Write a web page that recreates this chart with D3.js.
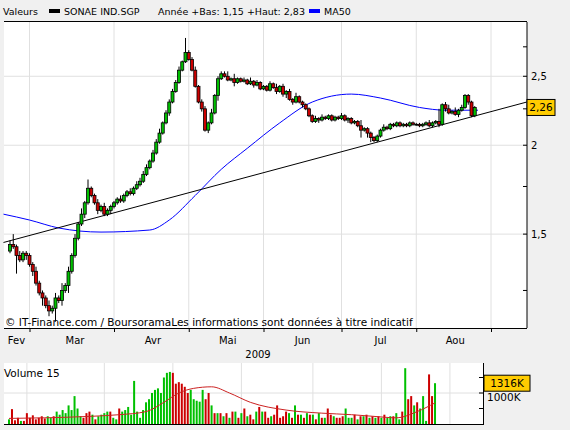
<!DOCTYPE html>
<html><head><meta charset="utf-8">
<script src="https://cdnjs.cloudflare.com/ajax/libs/d3/7.8.5/d3.min.js"></script>
<style>body{margin:0;background:#f0f0f0}svg{font-family:"DejaVu Sans",sans-serif}</style>
</head><body><svg id="c" width="570" height="430"></svg>
<script>
// daily closes, open = previous close
const closes = [1.45,1.44,1.40,1.38,1.41,1.40,1.36,1.33,1.28,1.24,1.22,1.19,1.17,1.18,1.22,1.21,1.25,1.27,1.33,1.40,
  1.48,1.55,1.60,1.66,1.74,1.70,1.66,1.62,1.64,1.60,1.62,1.64,1.66,1.68,1.67,1.70,1.72,1.71,1.74,1.76,
  1.78,1.82,1.86,1.90,1.95,2.02,2.08,2.15,2.22,2.30,2.38,2.45,2.55,2.62,2.70,2.64,2.55,2.42,2.30,2.25,
  2.10,2.15,2.22,2.35,2.48,2.52,2.50,2.47,2.48,2.45,2.48,2.46,2.47,2.44,2.46,2.43,2.45,2.40,2.42,2.39,
  2.44,2.41,2.38,2.42,2.36,2.38,2.32,2.30,2.34,2.30,2.28,2.25,2.20,2.16,2.18,2.17,2.19,2.18,2.20,2.17,
  2.19,2.18,2.20,2.17,2.18,2.15,2.16,2.13,2.10,2.11,2.08,2.05,2.03,2.06,2.10,2.12,2.11,2.14,2.13,2.15,
  2.13,2.14,2.13,2.15,2.14,2.14,2.13,2.14,2.15,2.13,2.15,2.16,2.14,2.28,2.25,2.22,2.23,2.21,2.24,2.26,
  2.35,2.30,2.20,2.26]
const firstOpen = 1.42
// wick lengths in cents (base 36 digits)
const upWick = "2512111121"+"1121213121"+"2131511212"+"1111211212"+"2221223122"+"2231d22312"+"2131222414"+
  "1121312111"+"2131212131"+"1111212111"+"1121111141"+"1111121111"+"1111111112"+"1191231312"+"1111"
const downWick = "1181121211"+"3121512131"+"1112111211"+"1211111111"+"1111111112"+"1111111112"+"1211411113"+
  "1111121111"+"1121231211"+"2111121111"+"1111211151"+"3311111111"+"1111111111"+"1121211121"+"1211"
const volumes = [150,480,120,200,100,100,350,200,280,150,200,250,180,250,200,250,400,300,450,350,
  600,450,900,500,250,200,350,400,300,150,250,300,350,400,400,200,150,500,400,450,
  550,300,1390,400,200,450,700,800,1000,1100,1150,1000,1500,1650,1680,1650,1300,1350,1300,1200,
  1000,1100,800,750,720,1100,800,1000,600,350,350,350,250,350,200,400,400,200,350,500,
  250,300,150,400,550,400,400,200,250,300,600,200,250,400,350,200,600,300,300,200,
  350,300,300,150,350,200,200,500,300,250,200,200,250,500,200,200,300,150,250,250,
  300,200,250,200,250,200,300,200,250,250,350,150,400,1800,800,900,600,700,500,900,
  100,1600,900,1316]
const maIdx = [-2,6,15,28,43,49,57,65,73,83,93,105,114,126,134,144]
const ma50 = [1.60,1.57,1.53,1.51,1.52,1.57,1.70,1.85,1.98,2.15,2.30,2.36,2.33,2.26,2.24,2.24]
const vmaIdx = [0,12,28,37,46,52,57,62,68,74,81,93,105,115,122,130,137,143]
const vma = [180,200,250,300,400,700,1000,1150,1200,1000,700,450,350,300,250,200,400,680]
const trend = {i: [-2, 159], p: [1.46, 2.30]}
const months = ["Fev","Mar","Avr","Mai","Jun","Jul","Aou"]
const monthIdx = [2,20,44,67,90,114,137]
const gridIdx = [6,32,55,78,102,125,148]
const priceTicks = [1.5,2,2.5]
const priceMinor = [1.25,1.75,2.25,2.75]
const volTicks = [500,1000,1500]

const svg = d3.select("#c")
const red = "#cc0000", green = "#00c000"
const x = d3.scaleLinear().domain([0,144]).range([10,478])
const xv = d3.scaleLinear().domain([0,144]).range([9,438])
const y = d3.scaleLog().domain([1.107,2.98]).range([328,22])
const yv = d3.scaleLinear().domain([0,1000]).range([424,393])

// panels
svg.append("rect").attr("x",4).attr("y",22).attr("width",523).attr("height",306).attr("fill","#fff")
svg.append("rect").attr("x",4).attr("y",363).attr("width",479).attr("height",62).attr("fill","#fff")

// grid main
const grid = svg.append("g").attr("stroke","#e0e0e0")
gridIdx.forEach(i => grid.append("line").attr("x1",x(i)).attr("x2",x(i)).attr("y1",22).attr("y2",328))
priceTicks.forEach(p => grid.append("line").attr("x1",4).attr("x2",527).attr("y1",y(p)).attr("y2",y(p)))
gridIdx.forEach(i => grid.append("line").attr("x1",xv(i)).attr("x2",xv(i)).attr("y1",363).attr("y2",424))
grid.append("line").attr("x1",4).attr("x2",483).attr("y1",yv(1000)).attr("y2",yv(1000))

// legend
const lg = svg.append("g").attr("font-size",9.5)
lg.append("text").attr("x",3).attr("y",15).text("Valeurs")
lg.append("rect").attr("x",49).attr("y",9).attr("width",11).attr("height",4).attr("fill","#000")
lg.append("text").attr("x",64).attr("y",15).text("SONAE IND.SGP")
lg.append("text").attr("x",158).attr("y",15).text("Année +Bas: 1,15 +Haut: 2,83")
lg.append("rect").attr("x",309).attr("y",9).attr("width",11).attr("height",4).attr("fill","#0000ff")
lg.append("text").attr("x",324).attr("y",15).text("MA50")
svg.append("line").attr("x1",4).attr("x2",527).attr("y1",21.5).attr("y2",21.5).attr("stroke","#000")

// MA50 and trend
svg.append("path").attr("d", d3.line().curve(d3.curveMonotoneX).x((d,k)=>x(maIdx[k])).y(d=>y(d))(ma50))
  .attr("fill","none").attr("stroke","#0000ff").attr("stroke-width",1)
svg.append("line").attr("x1",x(trend.i[0])).attr("x2",x(trend.i[1]))
  .attr("y1",y(trend.p[0])).attr("y2",y(trend.p[1])).attr("stroke","#000")

// candles
const opens = closes.map((c,i)=> i===0 ? firstOpen : closes[i-1])
const cg = svg.append("g")
closes.forEach((c,i) => {
  const o = opens[i], hi = Math.max(o,c)+parseInt(upWick[i],36)/100, lo = Math.min(o,c)-parseInt(downWick[i],36)/100
  cg.append("line").attr("x1",x(i)).attr("x2",x(i)).attr("y1",y(hi)).attr("y2",y(lo)).attr("stroke","#000")
  const top = y(Math.max(o,c)), bot = y(Math.min(o,c))
  cg.append("rect").attr("x",x(i)-1.5).attr("width",3).attr("y",top).attr("height",Math.max(bot-top,0.8))
    .attr("fill", c>=o ? green : red).attr("stroke","#000").attr("stroke-width",0.8)
})

svg.append("text").attr("x",5).attr("y",326).attr("font-size",10.5)
  .text("© IT-Finance.com / BoursoramaLes informations sont données à titre indicatif")

// axes main
svg.append("line").attr("x1",4).attr("x2",527).attr("y1",328.5).attr("y2",328.5).attr("stroke","#000")
svg.append("g").attr("transform","translate(0,328)")
  .call(d3.axisBottom(x).tickValues(gridIdx).tickSize(4).tickFormat(""))
  .call(g=>g.select(".domain").remove())
svg.append("g").attr("font-size",10).selectAll("text").data(months).join("text")
  .attr("x",(d,k)=>x(monthIdx[k])).attr("y",344).attr("text-anchor","middle").text(d=>d)
svg.append("text").attr("x",258).attr("y",358).attr("font-size",10).attr("text-anchor","middle").text("2009")

const ya = svg.append("g").attr("transform","translate(527,0)")
  .call(d3.axisRight(y).tickValues(priceTicks).tickSize(0).tickPadding(4).tickFormat(d=>String(d).replace(".",",")))
ya.select(".domain").attr("d","M0,22V328")
ya.selectAll("text").attr("font-size",10).attr("font-family","DejaVu Sans")
const tk = svg.append("g").attr("stroke","#000")
priceTicks.concat(priceMinor).forEach(p => tk.append("line").attr("x1",523).attr("x2",527).attr("y1",y(p)).attr("y2",y(p)))
const last = closes[closes.length-1]
svg.append("rect").attr("x",527).attr("y",y(last)-8).attr("width",28).attr("height",16).attr("fill","#ffcc00").attr("stroke","#000")
svg.append("text").attr("x",541).attr("y",y(last)+4).attr("font-size",10.5).attr("text-anchor","middle").text("2,26")

// volume
svg.append("text").attr("x",4).attr("y",377).attr("font-size",10.5).text("Volume 15")
svg.append("g").selectAll("rect").data(volumes).join("rect")
  .attr("x",(d,i)=>xv(i)-1).attr("width",2).attr("y",d=>yv(d)).attr("height",d=>424-yv(d))
  .attr("fill",(d,i)=> closes[i]>=opens[i] ? green : red)
svg.append("path").attr("d", d3.line().curve(d3.curveMonotoneX).x((d,k)=>xv(vmaIdx[k])).y(d=>yv(d))(vma))
  .attr("fill","none").attr("stroke","#cc2222")
svg.append("line").attr("x1",4).attr("x2",483).attr("y1",424.5).attr("y2",424.5).attr("stroke","#000")
svg.append("line").attr("x1",483.5).attr("x2",483.5).attr("y1",363).attr("y2",425).attr("stroke","#000")
volTicks.forEach(v => svg.append("line").attr("x1",479).attr("x2",483).attr("y1",yv(v)).attr("y2",yv(v)).attr("stroke","#000"))
svg.append("text").attr("x",487).attr("y",yv(1000)+8).attr("font-size",10.5).text("1000K")
const lv = volumes[volumes.length-1]
svg.append("rect").attr("x",484).attr("y",yv(lv)-8).attr("width",46).attr("height",16).attr("fill","#ffcc00").attr("stroke","#000")
svg.append("text").attr("x",507).attr("y",yv(lv)+4).attr("font-size",10.5).attr("text-anchor","middle").text("1316K")
</script></body></html>
